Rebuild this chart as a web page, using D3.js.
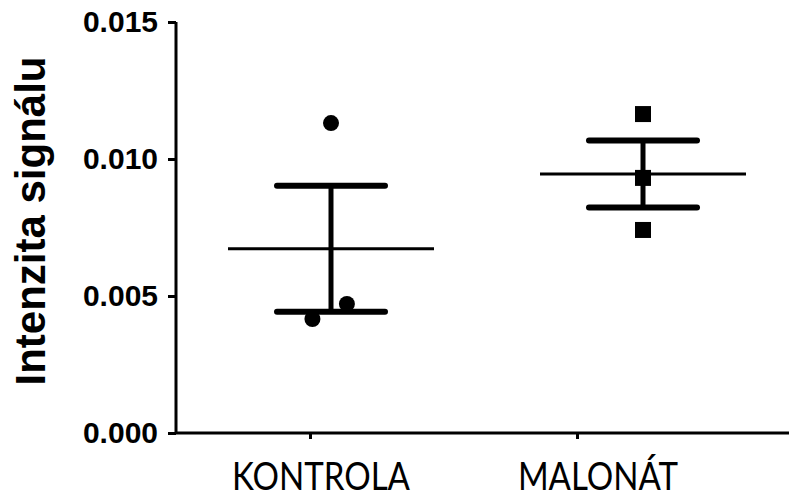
<!DOCTYPE html>
<html>
<head>
<meta charset="utf-8">
<script src="https://cdn.jsdelivr.net/npm/d3@7"></script>
<style>
  body { margin: 0; background: #fff; }
  svg { display: block; }
</style>
</head>
<body>
<div id="chart"></div>
<script>
// data
var categories = ["KONTROLA", "MALONÁT"];
var kontrola = [0.01131, 0.00471, 0.00416];
var malonat = [0.01164, 0.00931, 0.00741];
var jitter = [[0, 0.06, -0.07], [0, 0, 0]];   // fraction of group spacing
var yTicks = [0, 0.005, 0.010, 0.015];
var series = [kontrola, malonat];

var width = 789, height = 498;

var svg = d3.select("#chart").append("svg")
  .attr("width", width)
  .attr("height", height);

var y = d3.scaleLinear().domain([0, 0.015]).range([433, 22]);
// data columns, axis ticks and labels sit at slightly different places in the original
var xData = d3.scalePoint().domain(categories).range([331, 643]);
var xTick = d3.scalePoint().domain(categories).range([310, 577]);
var xLabel = d3.scalePoint().domain(categories).range([321, 598]);
var spacing = xData(categories[1]) - xData(categories[0]);

function mean(a) { return d3.mean(a); }
function sem(a) { return d3.deviation(a) / Math.sqrt(a.length); }

// y axis
var yAxis = svg.append("g")
  .attr("transform", "translate(176,0)")
  .call(d3.axisLeft(y).tickValues(yTicks).tickFormat(d3.format(".3f")).tickSize(8).tickPadding(10));
yAxis.select(".domain").attr("stroke-width", 3).attr("d", "M0," + y(0.015) + "V" + y(0));
yAxis.selectAll(".tick line").attr("stroke-width", 3);
yAxis.selectAll(".tick text")
  .style("font-family", "Liberation Sans, Arial, sans-serif")
  .style("font-weight", "bold")
  .style("font-size", "30px")
  .attr("fill", "#000");

// x axis
var xAxis = svg.append("g")
  .attr("transform", "translate(0," + y(0) + ")")
  .call(d3.axisBottom(xTick).tickSize(6).tickFormat(""));
xAxis.select(".domain").attr("stroke-width", 3).attr("d", "M176,0H" + width);
xAxis.selectAll(".tick line").attr("stroke-width", 3);

svg.selectAll(".xlabel")
  .data(categories)
  .enter().append("text")
  .attr("class", "xlabel")
  .attr("transform", function(d) { return "translate(" + xLabel(d) + ",490) scale(0.87,1)"; })
  .attr("text-anchor", "middle")
  .style("font-family", "Lato, sans-serif")
  .style("font-size", "38px")
  .text(function(d) { return d; });

// y label
svg.append("text")
  .attr("transform", "translate(45,221) rotate(-90)")
  .attr("text-anchor", "middle")
  .style("font-family", "Liberation Sans, Arial, sans-serif")
  .style("font-weight", "bold")
  .style("font-size", "42px")
  .text("Intenzita signálu");

// groups: mean line, SEM bars, points
var group = svg.selectAll(".grp")
  .data(categories)
  .enter().append("g")
  .attr("class", "grp");

group.each(function(c, i) {
  var g = d3.select(this);
  var vals = series[i];
  var cx = xData(c);
  var m = mean(vals), s = sem(vals);

  g.append("line")
    .attr("x1", cx).attr("x2", cx)
    .attr("y1", y(m + s)).attr("y2", y(m - s))
    .attr("stroke", "#000").attr("stroke-width", 5);

  g.selectAll(".cap")
    .data([m + s, m - s])
    .enter().append("line")
    .attr("x1", cx - 54).attr("x2", cx + 54)
    .attr("y1", function(d) { return y(d); })
    .attr("y2", function(d) { return y(d); })
    .attr("stroke", "#000").attr("stroke-width", 6)
    .attr("stroke-linecap", "round");

  g.append("line")
    .attr("x1", cx - 103).attr("x2", cx + 103)
    .attr("y1", y(m)).attr("y2", y(m))
    .attr("stroke", "#000").attr("stroke-width", 3);

  var pts = g.selectAll(".pt").data(vals).enter();
  if (i === 0) {
    pts.append("circle")
      .attr("cx", function(d, j) { return cx + jitter[i][j] * spacing * 0.85; })
      .attr("cy", function(d) { return y(d); })
      .attr("r", 8)
      .attr("fill", "#000");
  } else {
    pts.append("rect")
      .attr("x", function(d, j) { return cx + jitter[i][j] * spacing - 8; })
      .attr("y", function(d) { return y(d) - 8; })
      .attr("width", 16).attr("height", 16)
      .attr("fill", "#000");
  }
});
</script>
</body>
</html>
